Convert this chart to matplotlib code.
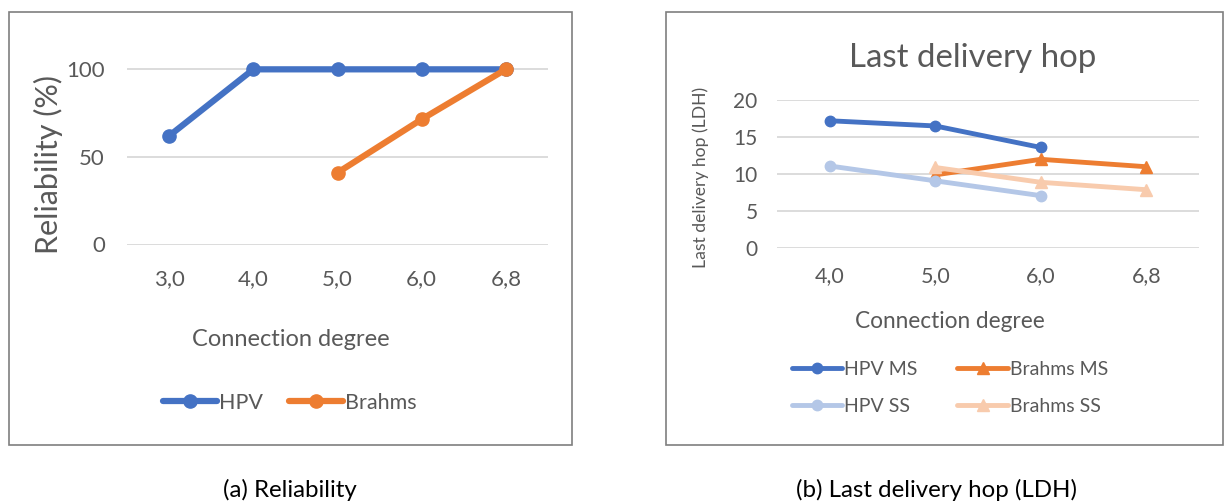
import matplotlib
matplotlib.use("Agg")
import matplotlib.pyplot as plt
from matplotlib.patches import Rectangle

plt.rcParams['font.family'] = ['Lato', 'DejaVu Sans']

# ---- data ----
rel_degrees = ['3,0', '4,0', '5,0', '6,0', '6,8']
rel_hpv = [62, 100, 100, 100, 100]
rel_brahms = [None, None, 41, 71.5, 100]

ldh_degrees = ['4,0', '5,0', '6,0', '6,8']
ldh_hpv_ms = [17.2, 16.5, 13.6, None]
ldh_brahms_ms = [None, 9.9, 12.0, 11.0]
ldh_hpv_ss = [11.1, 9.1, 7.1, None]
ldh_brahms_ss = [None, 10.9, 8.9, 7.9]

BLUE = '#4472C4'
ORANGE = '#ED7D31'
LBLUE = '#B4C7E7'
LORANGE = '#F8CBAD'
TXT = '#595959'
GRID = '#D9D9D9'

W, H = 1225, 504
fig = plt.figure(figsize=(W / 100, H / 100), dpi=100)


def px_axes(l, t, r, b):
    return fig.add_axes([l / W, 1 - b / H, (r - l) / W, (b - t) / H])


def fx(x):
    return x / W


def fy(y):
    return 1 - y / H


def series(vals):
    xs = [i for i, v in enumerate(vals) if v is not None]
    ys = [v for v in vals if v is not None]
    return xs, ys


def style_axes(ax, ncat, ticks, xfs, yfs, xpad, ypad):
    ax.set_xlim(-0.5, ncat - 0.5)
    ax.set_xticks(range(ncat))
    ax.set_yticks(ticks)
    for s in ax.spines.values():
        s.set_visible(False)
    ax.tick_params(length=0, colors=TXT)
    ax.tick_params(axis='x', pad=xpad, labelsize=xfs)
    ax.tick_params(axis='y', pad=ypad, labelsize=yfs)
    ax.grid(axis='y', color=GRID, linewidth=1.3)
    ax.set_axisbelow(True)
    ax.patch.set_alpha(0)


# outer frames
for l, t, r, b in [(9, 12, 572, 445), (666, 12, 1223, 445)]:
    fig.patches.append(Rectangle((fx(l), fy(b)), fx(r - l), (b - t) / H,
                                 transform=fig.transFigure, fill=False,
                                 edgecolor='#7F7F7F', linewidth=1.2))

# ---- (a) Reliability ----
ax1 = px_axes(127, 34.3, 548, 244.5)
style_axes(ax1, len(rel_degrees), [0, 50, 100], 16, 16, 18, 16)
ax1.set_ylim(0, 120)
ax1.set_xticklabels(rel_degrees)
x, y = series(rel_hpv)
ax1.plot(x, y, color=BLUE, lw=4.5, marker='o', ms=9.5, solid_capstyle='round', label='HPV')
x, y = series(rel_brahms)
ax1.plot(x, y, color=ORANGE, lw=4.5, marker='o', ms=9.5, solid_capstyle='round', label='Brahms')
fig.text(fx(48), fy(164), 'Reliability (%)', rotation=90, ha='center', va='center',
         color=TXT, fontsize=22)
fig.text(fx(291), fy(340), 'Connection degree', ha='center', va='center',
         color=TXT, fontsize=17)
ax1.legend(loc='center', bbox_to_anchor=(fx(290), fy(403)), bbox_transform=fig.transFigure,
           ncol=2, frameon=False, fontsize=15.5, labelcolor=TXT, handlelength=2.5,
           handletextpad=0.1, columnspacing=1.2)

# ---- (b) Last delivery hop ----
ax2 = px_axes(777, 100, 1199, 248.3)
style_axes(ax2, len(ldh_degrees), [0, 5, 10, 15, 20], 15.5, 15, 13, 14)
ax2.set_ylim(0, 20)
ax2.set_xticklabels(ldh_degrees)
lines = {}
for vals, c, m, ms, lab in [(ldh_hpv_ms, BLUE, 'o', 7.5, 'HPV MS'),
                            (ldh_brahms_ms, ORANGE, '^', 8.5, 'Brahms MS'),
                            (ldh_hpv_ss, LBLUE, 'o', 7.5, 'HPV SS'),
                            (ldh_brahms_ss, LORANGE, '^', 8.5, 'Brahms SS')]:
    x, y = series(vals)
    lines[lab], = ax2.plot(x, y, color=c, lw=3.5, marker=m, ms=ms, solid_capstyle='round',
                           label=lab, clip_on=False)
fig.text(fx(973), fy(58), 'Last delivery hop', ha='center', va='center',
         color=TXT, fontsize=23.8)
fig.text(fx(701), fy(177), 'Last delivery hop (LDH)', rotation=90, ha='center', va='center',
         color=TXT, fontsize=12.6)
fig.text(fx(950), fy(321), 'Connection degree', ha='center', va='center',
         color=TXT, fontsize=16.3)
# column-major fill so the rows read MS / SS like the reference
order = ['HPV MS', 'HPV SS', 'Brahms MS', 'Brahms SS']
ax2.legend([lines[k] for k in order], order, loc='center',
           bbox_to_anchor=(fx(950), fy(388)), bbox_transform=fig.transFigure,
           ncol=2, frameon=False, fontsize=14, labelcolor=TXT, handlelength=2.6,
           handletextpad=0.1, columnspacing=2.05, labelspacing=1.0)

# captions
fig.text(fx(290), fy(490), '(a) Reliability', ha='center', va='center',
         color='black', fontsize=17.3)
fig.text(fx(937), fy(490), '(b) Last delivery hop (LDH)', ha='center', va='center',
         color='black', fontsize=17.3)

fig.savefig('out.png', dpi=100)
